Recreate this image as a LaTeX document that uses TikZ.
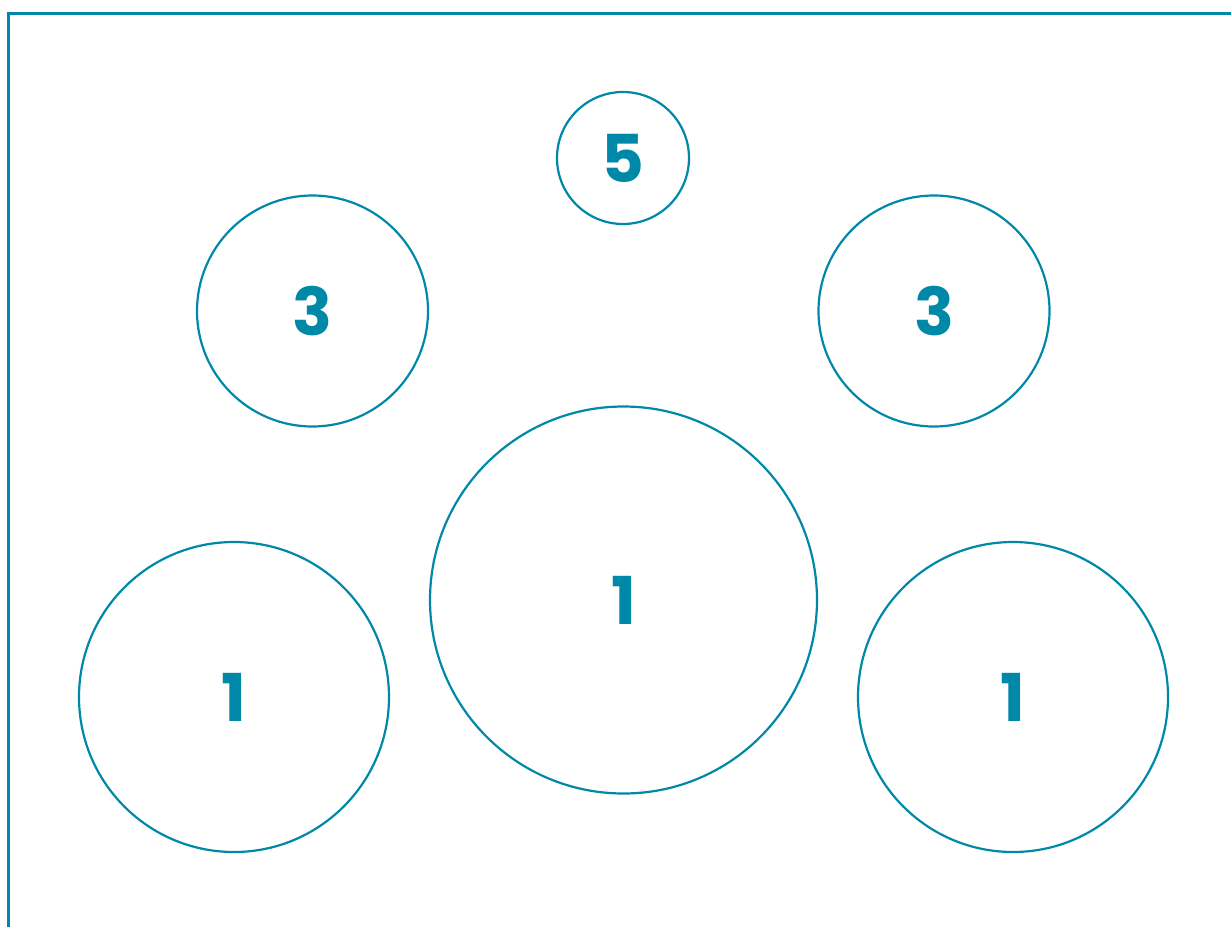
\documentclass[tikz,border=0pt]{standalone}
\usepackage{fontspec}
\newfontfamily\digitfont{Poppins}
\usetikzlibrary{positioning}
\definecolor{ringblue}{HTML}{0088A8}

\begin{document}
\begin{tikzpicture}[x=0.5pt, y=-0.5pt,
    ring/.style={circle, draw=ringblue, line width=1.1pt, inner sep=0pt, text=ringblue,
        font=\digitfont\bfseries\fontsize{33}{33}\selectfont},
    frame/.style={draw=ringblue, line width=1.5pt}]

    \useasboundingbox (0,0) rectangle (1231,927);

    % Frame corner
    \coordinate (fbot) at (8,927);
    \coordinate (fcorner) at (8,13);
    \coordinate (fright) at (1231,13);
    \draw[frame] (fbot) -- (fcorner) -- (fright);

    % Top ring
    \node[ring, minimum size=66pt] (five) at (623,158) {5};

    % Middle rings
    \node[ring, minimum size=115.5pt] (threeL) at (312.5,311) {3};
    \node[ring, minimum size=115.5pt] (threeR) at (934,311) {3};

    % Bottom rings
    \node[ring, minimum size=193.5pt] (oneC) at (623.5,600) {1};
    \node[ring, minimum size=155pt] (oneL) at (234,697) {1};
    \node[ring, minimum size=155pt] (oneR) at (1013,697) {1};

\end{tikzpicture}
\end{document}
